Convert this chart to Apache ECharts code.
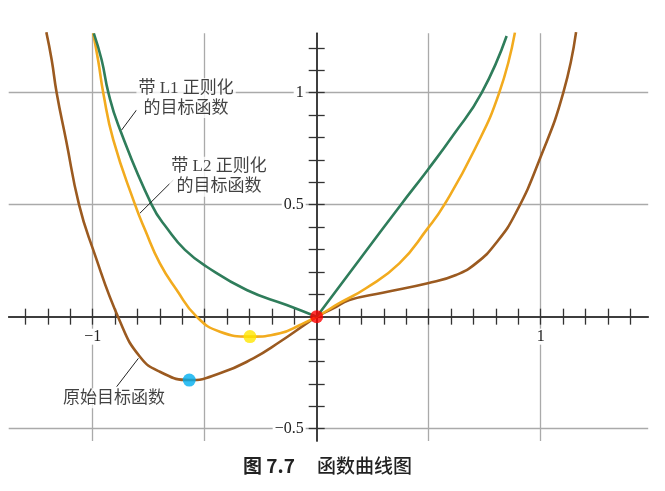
<!DOCTYPE html>
<html>
<head>
<meta charset="utf-8">
<script src="https://cdn.jsdelivr.net/npm/echarts@6/dist/echarts.min.js"></script>
<style>
  html, body { margin: 0; background: #fff; }
  #chart { width: 665px; height: 491px; }
</style>
</head>
<body>
<div id="chart"></div>
<script>
// curves, [x, y]
const origCurve = [
  [-1.207, 1.27], [-1.183, 1.146], [-1.161, 1.0], [-1.119, 0.789], [-1.061, 0.5],
  [-1.0, 0.305], [-0.878, -0.022], [-0.789, -0.179], [-0.7, -0.246], [-0.569, -0.283],
  [-0.432, -0.253], [-0.283, -0.186], [-0.164, -0.112], [-0.045, -0.03], [0, 0],
  [0.074, 0.037], [0.146, 0.074], [0.295, 0.107], [0.496, 0.149], [0.622, 0.186],
  [0.711, 0.238], [0.8, 0.328], [0.89, 0.465], [1.0, 0.714], [1.101, 1.0], [1.158, 1.27]
]
const l2Curve = [
  [-0.998, 1.265], [-0.975, 1.14], [-0.953, 1.0], [-0.908, 0.789], [-0.811, 0.5],
  [-0.766, 0.387], [-0.7, 0.238], [-0.625, 0.119], [-0.536, 0.0], [-0.432, -0.067],
  [-0.298, -0.089], [-0.164, -0.074], [-0.0745, -0.037], [0, 0], [0.101, 0.06],
  [0.22, 0.127], [0.369, 0.238], [0.4955, 0.394], [0.57, 0.5], [0.704, 0.744],
  [0.815, 1.0], [0.885, 1.268]
]
// L1 curve has a kink at the origin, so it is kept as two halves
const l1Left = [
  [-0.995, 1.265], [-0.96, 1.146], [-0.93, 1.0], [-0.886, 0.856], [-0.737, 0.5],
  [-0.6625, 0.387], [-0.588, 0.298], [-0.491, 0.223], [-0.3125, 0.119], [-0.134, 0.052],
  [0, 0]
]
const l1Right = [
  [0, 0], [0.19, 0.253], [0.376, 0.5], [0.4955, 0.655], [0.61, 0.811], [0.737, 1.0],
  [0.848, 1.253]
]
const minPoints = [
  { value: [0, 0], color: '#ff0000' },
  { value: [-0.298, -0.089], color: '#ffe600' },
  { value: [-0.569, -0.283], color: '#00aeef' }
]

const xTicks = [-1.3, -1.2, -1.1, -1, -0.9, -0.8, -0.7, -0.6, -0.5, -0.4, -0.3, -0.2, -0.1,
  0.1, 0.2, 0.3, 0.4, 0.5, 0.6, 0.7, 0.8, 0.9, 1, 1.1, 1.2, 1.3, 1.4]
const yTicks = [-0.5, -0.4, -0.3, -0.2, -0.1, 0.1, 0.2, 0.3, 0.4, 0.5, 0.6, 0.7, 0.8, 0.9,
  1, 1.1, 1.2]
const xLabels = [-1, 1]
const yLabels = [-0.5, 0.5, 1]
const xGrid = [-1, -0.5, 0.5, 1]
const yGrid = [-0.5, 0.5, 1]

const notes = [
  { text: '带 L1 正则化\n的目标函数', at: [-0.583, 0.976], from: [-0.804, 0.923], to: [-0.871, 0.833] },
  { text: '带 L2 正则化\n的目标函数', at: [-0.436, 0.625], from: [-0.64, 0.61], to: [-0.789, 0.462] },
  { text: '原始目标函数', at: [-0.905, -0.364], from: [-0.796, -0.186], to: [-0.893, -0.3125] }
]

const X_MIN = -1.375, X_MAX = 1.48, Y_MIN = -0.555, Y_MAX = 1.265
const W = 665, H = 491
const G = { left: 8.7, right: 16.8, top: 33.3, bottom: 50 }
// pixel distance from each grid edge to the zero line (axes are drawn through the origin)
const plotW = W - G.left - G.right, plotH = H - G.top - G.bottom
const zeroFromLeft = plotW * (0 - X_MIN) / (X_MAX - X_MIN)
const zeroFromTop = plotH * (Y_MAX - 0) / (Y_MAX - Y_MIN)
const offsets = {
  bottom: -(plotH - zeroFromTop), top: -zeroFromTop,
  left: -zeroFromLeft, right: -(plotW - zeroFromLeft)
}

const serif = '"Liberation Serif", "Noto Sans CJK SC", serif'
const minus = v => (v < 0 ? '\u2212' + Math.abs(v) : String(v))

function tickAxis(position, ticks, labels) {
  const isY = position === 'left' || position === 'right'
  return {
    type: 'value', min: isY ? Y_MIN : X_MIN, max: isY ? Y_MAX : X_MAX,
    position: position, offset: offsets[position], z: 3,
    axisLine: { onZero: false, lineStyle: { color: '#333', width: 1.5 } },
    axisTick: { show: true, length: 8, customValues: ticks, lineStyle: { color: '#333', width: 1.3 } },
    axisLabel: labels ? {
      customValues: labels, formatter: minus, margin: isY ? 11 : 12,
      fontFamily: serif, fontSize: 16, color: '#222',
      backgroundColor: '#fff', padding: [0, 2]
    } : { show: false },
    splitLine: { show: false }
  }
}
function gridAxis(isY, values) {
  return {
    type: 'value', min: isY ? Y_MIN : X_MIN, max: isY ? Y_MAX : X_MAX, z: 0,
    axisLine: { show: false },
    axisTick: { show: false, customValues: values },
    axisLabel: { show: false },
    splitLine: { show: true, lineStyle: { color: '#aaa', width: 1.3 } }
  }
}
function curve(name, data, color) {
  return {
    name: name, type: 'line', data: data, showSymbol: false, smooth: 0.5, clip: true,
    lineStyle: { color: color, width: 2.6 }, z: 4
  }
}

const chart = echarts.init(document.getElementById('chart'))
chart.setOption({
  animation: false,
  grid: { left: G.left, right: G.right, top: G.top, bottom: G.bottom, containLabel: false, outerBoundsMode: 'none' },
  xAxis: [tickAxis('bottom', xTicks, xLabels), tickAxis('top', xTicks, null), gridAxis(false, xGrid)],
  yAxis: [tickAxis('left', yTicks, yLabels), tickAxis('right', yTicks, null), gridAxis(true, yGrid)],
  graphic: [{
    type: 'text', left: 243, top: 456,
    style: {
      text: '{b|图 7.7}{n|函数曲线图}',
      rich: {
        b: { fontFamily: '"Noto Sans CJK SC", sans-serif', fontSize: 19, fontWeight: 'bold', fill: '#222', padding: [0, 22, 0, 0] },
        n: { fontFamily: '"Noto Sans CJK SC", sans-serif', fontSize: 19, fontWeight: 500, fill: '#222' }
      }
    }
  }],
  series: [
    curve('原始目标函数', origCurve, '#9b5a20'),
    curve('带 L2 正则化的目标函数', l2Curve, '#f2ab1e'),
    curve('带 L1 正则化的目标函数', l1Left, '#2f7d5b'),
    curve('带 L1 正则化的目标函数', l1Right, '#2f7d5b'),
    { type: 'scatter', symbolSize: 13, z: 6, silent: true,
      data: minPoints.map(p => ({ value: p.value, itemStyle: { color: p.color } })) },
    { type: 'scatter', symbolSize: 0, z: 5, silent: true,
      data: notes.map(n => ({
        value: n.at,
        label: {
          show: true, position: 'inside', formatter: n.text,
          fontFamily: serif, fontSize: 17, lineHeight: 20, color: '#111', align: 'center',
          backgroundColor: '#fff', padding: [0, 2]
        }
      })),
      markLine: {
        silent: true, symbol: ['none', 'none'], label: { show: false },
        lineStyle: { color: '#222', width: 1, type: 'solid' },
        data: notes.map(n => [{ coord: n.from }, { coord: n.to }])
      }
    }
  ]
})
</script>
</body>
</html>
